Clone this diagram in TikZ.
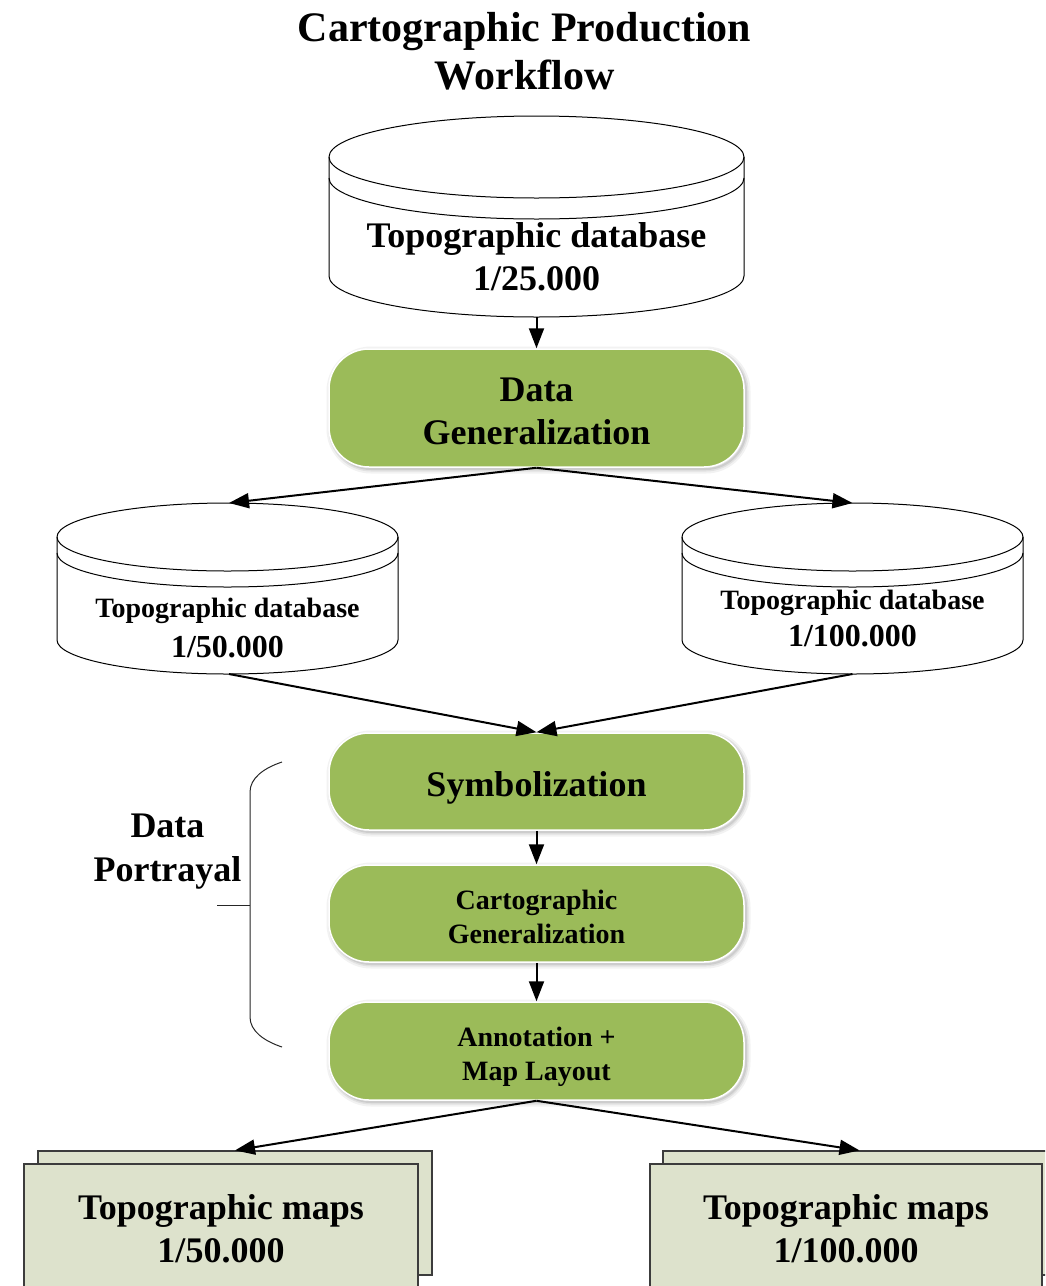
\documentclass[tikz,border=0pt]{standalone}
\usepackage{fontspec}
\setmainfont{Liberation Serif}
\usetikzlibrary{arrows.meta}
\definecolor{dgreen}{RGB}{155,187,89}
\definecolor{mapfill}{RGB}{221,226,204}
\definecolor{mapline}{RGB}{60,60,60}
\newcommand\myfs[2]{\fontsize{#1}{#2}\selectfont\bfseries}
% #1 cx, #2 top ellipse centre y, #3 half width, #4 y radius, #5 body bottom y, #6 gap of second line
\newcommand\dbcyl[6]{%
  \filldraw[cylbody] (#1-#3,#2) -- (#1-#3,#5)
     arc[start angle=180,end angle=360,x radius=#3pt,y radius=#4pt]
     -- (#1+#3,#2)
     arc[start angle=0,end angle=180,x radius=#3pt,y radius=#4pt] -- cycle;
  \draw[cylline] (#1-#3,#2) arc[start angle=180,end angle=360,x radius=#3pt,y radius=#4pt];
  \draw[cylline] (#1-#3,#2-#6) arc[start angle=180,end angle=360,x radius=#3pt,y radius=#4pt];
}
\begin{document}
\begin{tikzpicture}[x=1pt,y=1pt,
  cylbody/.style={draw=black,fill=white,line width=1pt},
  cylline/.style={draw=black,line width=1pt},
  gshadow/.style={
    preaction={draw=black,draw opacity=0.05,line width=9pt,transform canvas={shift={(2pt,-2pt)}}},
    preaction={draw=black,draw opacity=0.07,line width=5pt,transform canvas={shift={(2pt,-2pt)}}},
    preaction={draw=black,draw opacity=0.09,line width=2pt,transform canvas={shift={(2pt,-2pt)}}}},
  gbox/.style={gshadow,rounded corners=40pt,fill=dgreen,draw=white,line width=1.5pt,
    minimum width=415pt,inner sep=0pt},
  mapbox/.style={fill=mapfill,draw=mapline,line width=1.2pt,inner sep=0pt},
  lbl/.style={align=center,inner sep=0pt},
  conn/.style={line width=2pt,-{Triangle[length=20pt,width=15pt]}},
  bracket/.style={line width=1pt,draw=black!85}]
\useasboundingbox (0,0) rectangle (1045,-1286);
\clip (0,0) rectangle (1045,-1286);

% title
\node[lbl,font=\myfs{42}{48}] (title) at (524.5,-51) {Cartographic Production\\Workflow};

% databases
\dbcyl{536.5}{-157}{207.5}{41}{-276}{21}
\coordinate (db25s) at (536.5,-317);
\node[lbl,font=\myfs{36}{43}] (db25) at (536.5,-256.5) {Topographic database\\1/25.000};

\dbcyl{227.5}{-537}{170.5}{34}{-640}{16}
\coordinate (db50n) at (229,-503);
\coordinate (db50s) at (229,-674);
\node[lbl,font=\myfs{28}{40}] (db50) at (227.5,-628) {Topographic database\\{\myfs{32}{40}1/50.000}};

\dbcyl{852.5}{-537}{170.5}{34}{-640}{16}
\coordinate (db100n) at (852.5,-503);
\coordinate (db100s) at (852.5,-674);
\node[lbl,font=\myfs{28}{37}] (db100) at (852.5,-618.5) {Topographic database\\{\myfs{32}{37}1/100.000}};

% process boxes
\node[gbox,minimum height=118pt] (dg) at (536.5,-408) {};
\node[lbl,font=\myfs{36}{43}] (dgt) at (536.5,-411.5) {Data\\Generalization};
\node[gbox,minimum height=97pt] (sym) at (536.5,-781.5) {};
\node[lbl,font=\myfs{36}{43}] (symt) at (536.5,-787.5) {Symbolization};
\node[gbox,minimum height=97pt] (cg) at (536.5,-913.5) {};
\node[lbl,font=\myfs{28}{34}] (cgt) at (536.5,-916.5) {Cartographic\\Generalization};
\node[gbox,minimum height=98pt] (an) at (536.5,-1051) {};
\node[lbl,font=\myfs{28}{34}] (ant) at (536.5,-1057) {Annotation +\\Map Layout};

% data portrayal bracket
\node[lbl,font=\myfs{36}{44}] (dp) at (167.5,-852) {Data\\Portrayal};
\draw[bracket] (282,-762) .. controls (264,-768) and (250,-778) .. (250,-792)
  -- (250,-1017) .. controls (250,-1031) and (264,-1041) .. (282,-1047);
\draw[bracket] (217,-905) -- (250,-905);

% map stacks
\node[mapbox,minimum width=394pt,minimum height=124pt] (m50back) at (235,-1213) {};
\node[mapbox,minimum width=394pt,minimum height=130pt,align=center,font=\myfs{36}{43}] (m50) at (221,-1229) {Topographic maps\\1/50.000};
\node[mapbox,minimum width=393pt,minimum height=124pt] (m100back) at (859.5,-1213) {};
\node[mapbox,minimum width=392pt,minimum height=130pt,align=center,font=\myfs{36}{43}] (m100) at (846,-1229) {Topographic maps\\1/100.000};

% connectors
\draw[conn] (db25s) -- (dg.north);
\draw[conn] (dg.south) -- (db50n);
\draw[conn] (dg.south) -- (db100n);
\draw[conn] (db50s) -- (sym.north);
\draw[conn] (db100s) -- (sym.north);
\draw[conn] (sym.south) -- (cg.north);
\draw[conn] (cg.south) -- (an.north);
\draw[conn] (an.south) -- (m50back.north);
\draw[conn] (an.south) -- (m100back.north);
\end{tikzpicture}
\end{document}
